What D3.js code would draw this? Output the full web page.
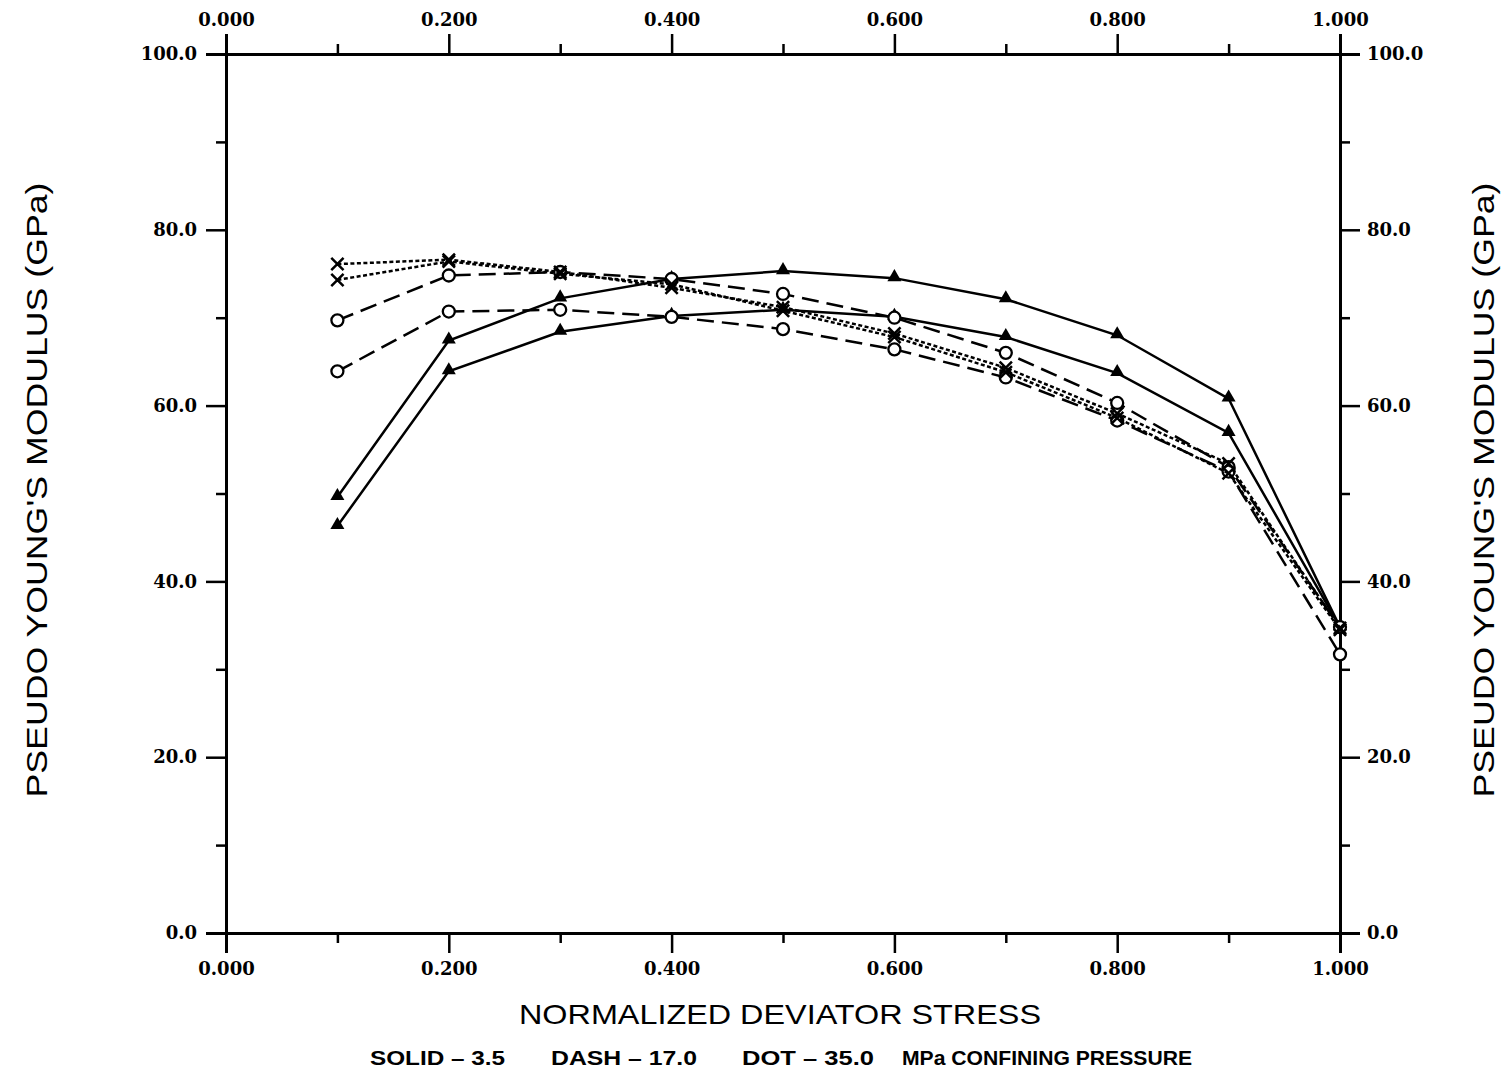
<!DOCTYPE html>
<html>
<head>
<meta charset="utf-8">
<script src="https://cdn.jsdelivr.net/npm/d3@7"></script>
<style>
  body { margin: 0; background: #fff; }
  .tick text { font-family: "DejaVu Serif", serif; font-weight: bold; font-size: 18px; fill: #000; }
  .title { font-family: "Liberation Sans", Arial, sans-serif; fill: #000; }
</style>
</head>
<body>
<div id="viz"></div>
<script>
// data
let stress = [0.1, 0.2, 0.3, 0.4, 0.5, 0.6, 0.7, 0.8, 0.9, 1.0]

let solidA = [49.6, 67.4, 72.2, 74.4, 75.3, 74.5, 72.1, 68.0, 60.8, 34.8]
let solidB = [46.3, 63.9, 68.4, 70.2, 70.9, 70.1, 67.8, 63.7, 56.9, 34.8]
let dashA  = [69.7, 74.8, 75.2, 74.4, 72.7, 70.0, 66.0, 60.3, 53.0, 34.8]
let dashB  = [63.9, 70.7, 70.9, 70.1, 68.7, 66.4, 63.2, 58.3, 52.5, 31.7]
let dotA   = [76.1, 76.6, 75.2, 73.4, 71.2, 68.2, 64.3, 59.1, 53.4, 34.7]
let dotB   = [74.3, 76.4, 75.0, 73.8, 70.8, 67.8, 63.8, 58.6, 52.3, 34.5]

let xMajor = [0, 0.2, 0.4, 0.6, 0.8, 1.0]
let xMinor = [0.1, 0.3, 0.5, 0.7, 0.9]
let yMajor = [0, 20, 40, 60, 80, 100]
let yMinor = [10, 30, 50, 70, 90]

let footer = ["SOLID \u2013 3.5", "DASH \u2013 17.0", "DOT \u2013 35.0", "MPa CONFINING PRESSURE"]

let series = [
  {values: solidA, dash: null, marker: "triangle"},
  {values: solidB, dash: null, marker: "triangle"},
  {values: dashA, dash: "17,8", marker: "circle"},
  {values: dashB, dash: "17,8", marker: "circle"},
  {values: dotA, dash: "4,2.5", marker: "cross"},
  {values: dotB, dash: "4,2.5", marker: "cross"}
]

let W = 1507, H = 1072

let svg = d3.select("#viz")
  .append("svg")
    .attr("width", W)
    .attr("height", H)

let xScale = d3.scaleLinear().domain([0, 1]).range([226, 1340])
let yScale = d3.scaleLinear().domain([0, 100]).range([933, 54])

// axes: minor ticks first (no labels), then major with labels
function drawAxis(axisFn, scale, transform, major, minor, fmt) {
  let gMin = svg.append("g").attr("transform", transform)
  gMin.call(axisFn(scale).tickValues(minor).tickSize(10).tickFormat(""))
  let gMaj = svg.append("g").attr("transform", transform)
  gMaj.call(axisFn(scale).tickValues(major).tickSize(20).tickPadding(6).tickFormat(fmt))
  gMin.selectAll(".tick line").attr("stroke-width", 2.5)
  gMaj.selectAll(".tick line").attr("stroke-width", 2.5)
  return gMaj
}

let fx = d3.format(".3f")
let fy = d3.format(".1f")

let axBottom = drawAxis(d3.axisBottom, xScale, "translate(0,933)", xMajor, xMinor, fx)
axBottom.selectAll(".tick text").attr("y", 29).attr("dy", "0.71em")
let axTop = drawAxis(d3.axisTop, xScale, "translate(0,54)", xMajor, xMinor, fx)
axTop.selectAll(".tick text").attr("y", -28)
let axLeft = drawAxis(d3.axisLeft, yScale, "translate(226,0)", yMajor, yMinor, fy)
axLeft.selectAll(".tick text").attr("x", -29)
let axRight = drawAxis(d3.axisRight, yScale, "translate(1340,0)", yMajor, yMinor, fy)
axRight.selectAll(".tick text").attr("x", 27)

svg.selectAll("path.domain").attr("stroke-width", 3).attr("stroke", "#000")

// lines
let line = d3.line()
  .x((d, i) => xScale(stress[i]))
  .y(d => yScale(d))

series.forEach(s => {
  svg.append("path")
    .datum(s.values)
    .attr("fill", "none")
    .attr("stroke", "#000")
    .attr("stroke-width", 2.5)
    .attr("stroke-dasharray", s.dash)
    .attr("d", line)

  let pts = svg.append("g")
  s.values.forEach((v, i) => {
    let cx = xScale(stress[i]), cy = yScale(v)
    if (s.marker == "triangle") {
      pts.append("path")
        .attr("d", d3.symbol(d3.symbolTriangle, 85)())
        .attr("transform", "translate(" + cx + "," + (cy - 1) + ")")
        .attr("fill", "#000")
    } else if (s.marker == "circle") {
      pts.append("circle")
        .attr("cx", cx).attr("cy", cy).attr("r", 6)
        .attr("fill", "#fff")
        .attr("stroke", "#000")
        .attr("stroke-width", 2.3)
    } else {
      pts.append("path")
        .attr("d", d3.symbol(d3.symbolX, 100)())
        .attr("transform", "translate(" + cx + "," + cy + ")")
        .attr("fill", "none")
        .attr("stroke", "#000")
        .attr("stroke-width", 2.5)
    }
  })
})

// titles
svg.append("text")
  .attr("class", "title")
  .attr("x", 780).attr("y", 1024)
  .attr("text-anchor", "middle")
  .attr("font-size", 28)
  .attr("textLength", 522)
  .attr("lengthAdjust", "spacingAndGlyphs")
  .text("NORMALIZED DEVIATOR STRESS")

// footer note, four pieces
let footX = [370, 551, 742, 902]
let footLen = [135, 146, 132, 290]
footer.forEach((t, i) => {
  svg.append("text")
    .attr("class", "title")
    .attr("x", footX[i]).attr("y", 1065)
    .attr("font-size", 20)
    .attr("font-weight", "bold")
    .attr("textLength", footLen[i])
    .attr("lengthAdjust", "spacingAndGlyphs")
    .text(t)
})

svg.append("text")
  .attr("class", "title")
  .attr("transform", "translate(47,490) rotate(-90)")
  .attr("text-anchor", "middle")
  .attr("font-size", 30)
  .attr("textLength", 615)
  .attr("lengthAdjust", "spacingAndGlyphs")
  .text("PSEUDO YOUNG'S MODULUS (GPa)")

svg.append("text")
  .attr("class", "title")
  .attr("transform", "translate(1494,490) rotate(-90)")
  .attr("text-anchor", "middle")
  .attr("font-size", 30)
  .attr("textLength", 615)
  .attr("lengthAdjust", "spacingAndGlyphs")
  .text("PSEUDO YOUNG'S MODULUS (GPa)")
</script>
</body>
</html>
